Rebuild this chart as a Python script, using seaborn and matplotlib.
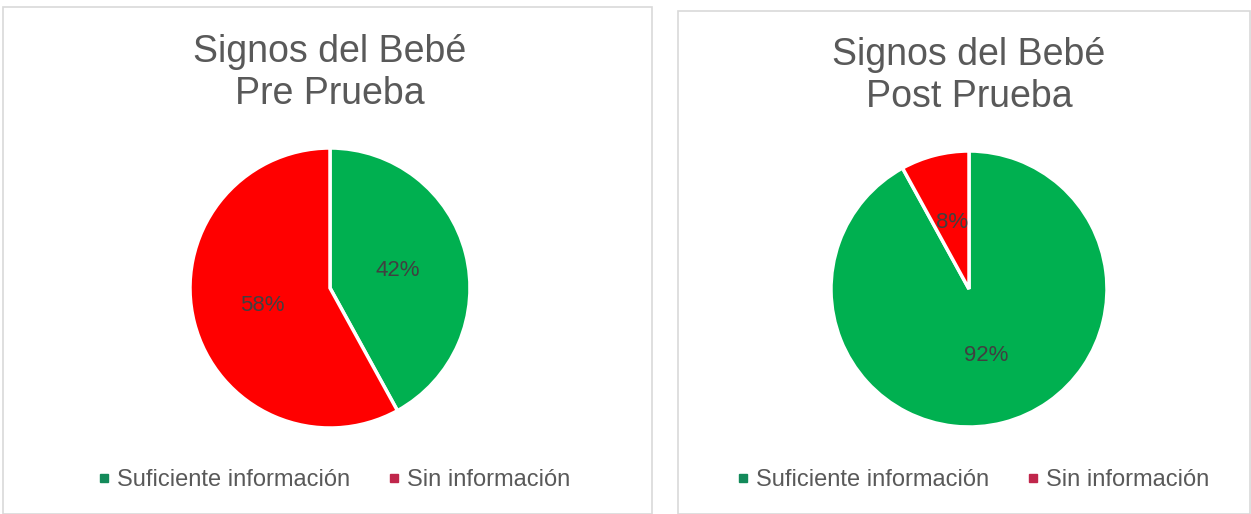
import matplotlib
matplotlib.use("Agg")
import matplotlib.pyplot as plt
import seaborn as sns
from matplotlib.patches import Rectangle
from matplotlib.lines import Line2D

sns.set_theme(style="white")
plt.rcParams['font.family'] = ['Liberation Sans', 'DejaVu Sans']

categories = ["Suficiente información", "Sin información"]
pre_values = [42, 58]
post_values = [92, 8]
titles = ["Signos del Bebé\nPre Prueba", "Signos del Bebé\nPost Prueba"]
pie_colors = ["#00B050", "#FF0000"]
legend_colors = ["#138A5A", "#C0264B"]

W, H = 1251, 514
fig = plt.figure(figsize=(W / 100, H / 100), dpi=100)
fig.patch.set_facecolor("white")

# panel borders
for (x0, y0, x1) in [(3, 7, 652), (678, 11, 1250)]:
    fig.patches.append(Rectangle((x0 / W, 0), (x1 - x0) / W, (H - y0) / H,
                                 transform=fig.transFigure, fill=False,
                                 edgecolor="#D9D9D9", linewidth=1.2))

panels = [
    dict(vals=pre_values, title=titles[0], cx=330, cy=288, r=140, ty=73, lx=334),
    dict(vals=post_values, title=titles[1], cx=969, cy=289, r=138, ty=76, lx=973),
]

for p in panels:
    ax = fig.add_axes([(p["cx"] - p["r"]) / W, (H - p["cy"] - p["r"]) / H,
                       2 * p["r"] / W, 2 * p["r"] / H])
    ax.pie(p["vals"], colors=pie_colors, startangle=90, counterclock=False,
           autopct=lambda v: f"{v:.0f}%", pctdistance=0.5,
           wedgeprops=dict(edgecolor="white", linewidth=2.5),
           textprops=dict(color="#404040", fontsize=16))
    ax.set_xlim(-1, 1)
    ax.set_ylim(-1, 1)
    ax.axis("off")
    fig.text(p["cx"] / W, 1 - p["ty"] / H, p["title"], ha="center", va="center",
             fontsize=27, color="#595959", linespacing=1.22)
    handles = [Line2D([], [], marker="s", linestyle="none", markersize=5.5,
                      markerfacecolor=c, markeredgecolor=c) for c in legend_colors]
    fig.legend(handles, categories, loc="center", bbox_to_anchor=(p["lx"] / W, 1 - 480 / H),
               ncol=2, frameon=False, fontsize=17, labelcolor="#595959",
               handlelength=0.5, handletextpad=0.3, columnspacing=1.6)

fig.savefig("out.png", dpi=100, facecolor="white")
